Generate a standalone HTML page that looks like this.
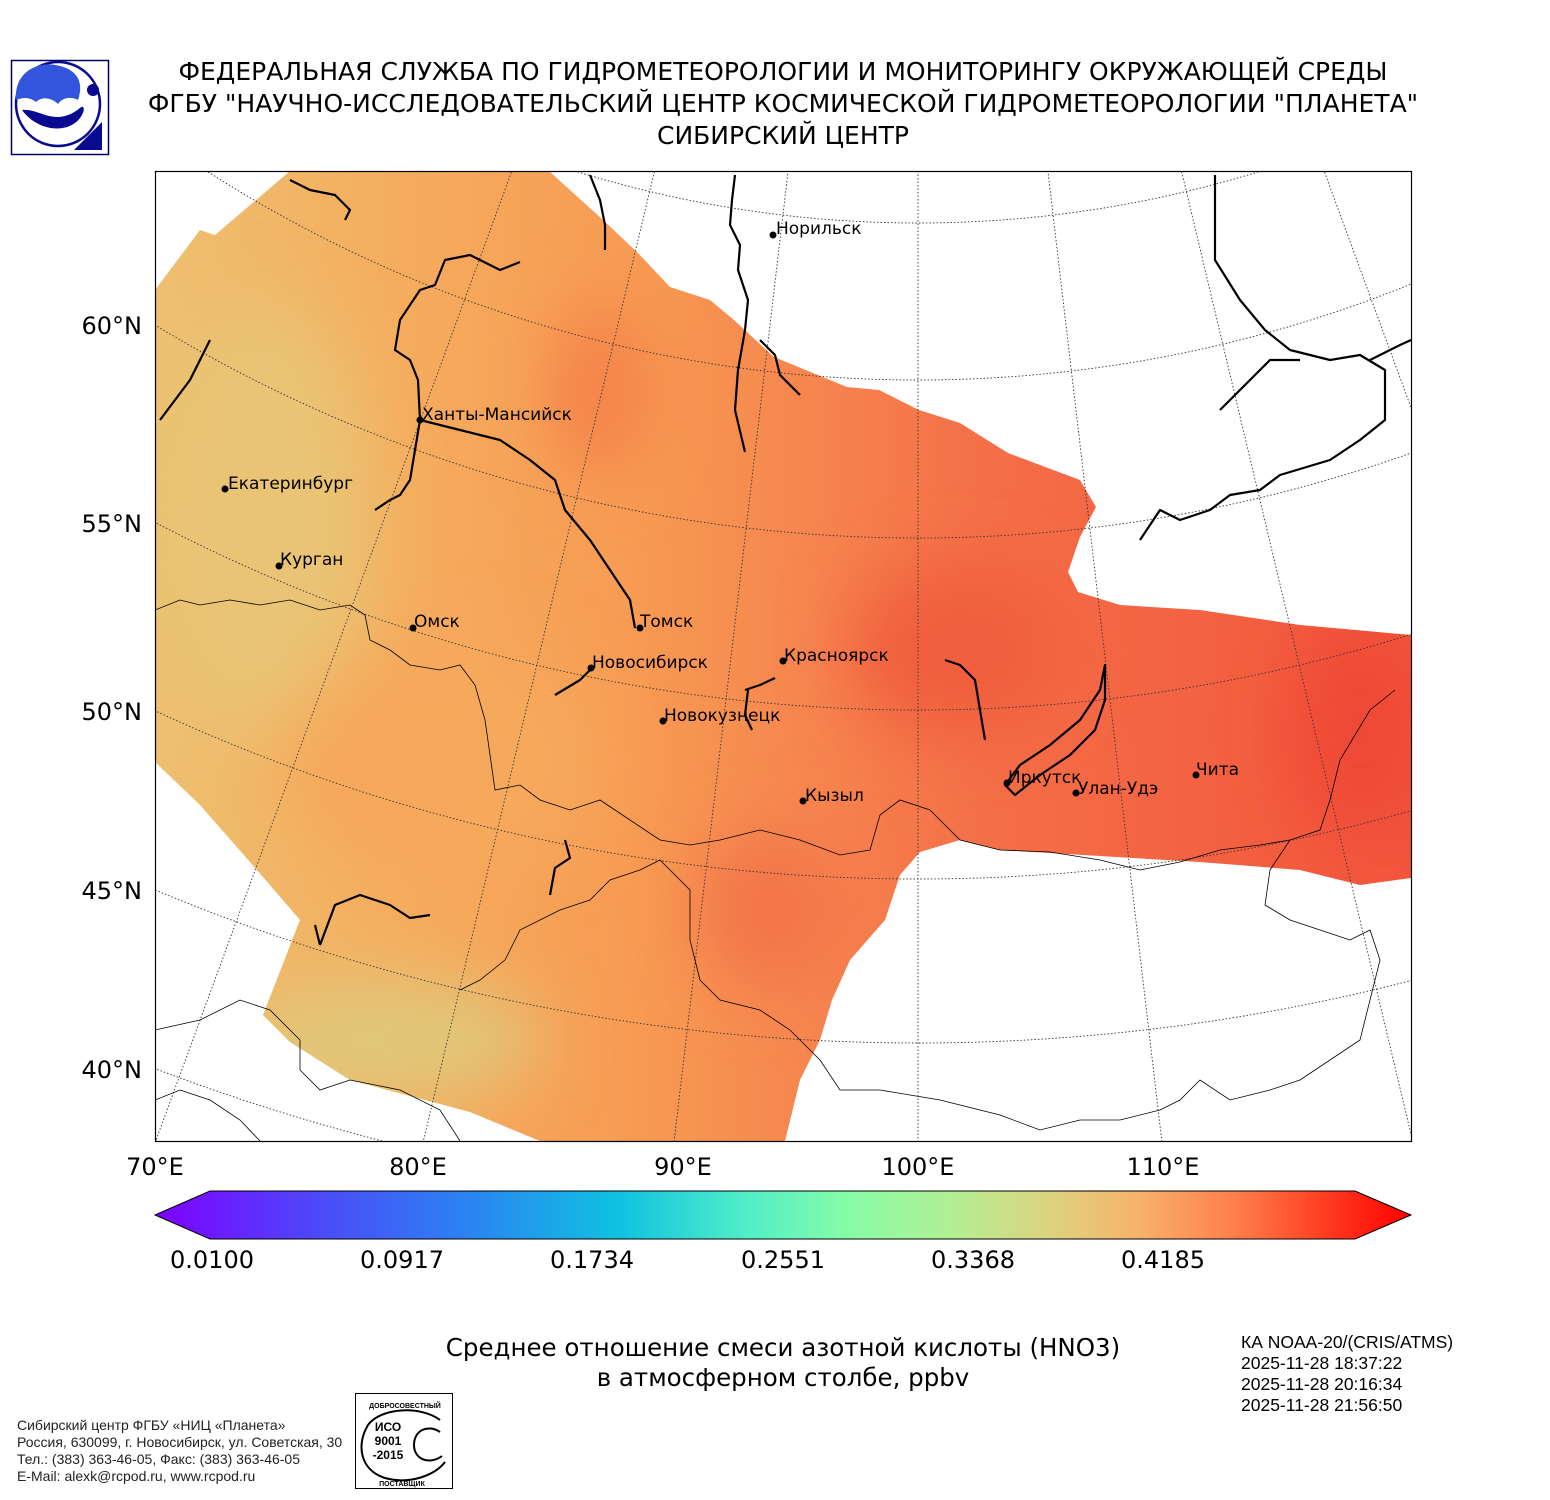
<!DOCTYPE html>
<html><head><meta charset="utf-8"><style>
html,body{margin:0;padding:0;background:#fff;width:1550px;height:1500px;overflow:hidden;font-family:"DejaVu Sans","Liberation Sans",sans-serif}
svg{display:block}
</style></head><body>
<svg width="1550" height="1500" viewBox="0 0 1550 1500" xmlns="http://www.w3.org/2000/svg">
<defs>
<clipPath id="plot"><rect x="155" y="171" width="1256" height="970"/></clipPath>
<clipPath id="data"><path d="M155,290 L200,230 L215,235 L290,171 L549,171 L581,200 L601,218 L638,253 L670,287 L710,300 L734,320 L774,357 L847,387 L879,390 L919,410 L960,423 L1008,453 L1080,480 L1096,507 L1080,537 L1068,572 L1078,592 L1120,605 L1200,610 L1300,625 L1411,635 L1411,878 L1360,885 L1300,870 L1200,862 L1100,856 L1000,850 L960,840 L920,852 L900,875 L885,920 L850,960 L832,1000 L820,1040 L800,1080 L785,1141 L540,1141 L470,1112 L350,1080 L290,1042 L263,1015 L300,920 L250,862 L200,805 L155,762 Z"/></clipPath>
<linearGradient id="fg" x1="155" y1="0" x2="1411" y2="0" gradientUnits="userSpaceOnUse">
<stop offset="0" stop-color="#edc070"/><stop offset="0.2" stop-color="#f5ac5e"/><stop offset="0.38" stop-color="#f79b53"/><stop offset="0.53" stop-color="#f6844e"/><stop offset="0.66" stop-color="#f46f48"/><stop offset="1" stop-color="#f2553b"/>
</linearGradient>
<linearGradient id="cb" x1="155" y1="0" x2="1411" y2="0" gradientUnits="userSpaceOnUse">
<stop offset="0" stop-color="#7f00ff"/><stop offset="0.12" stop-color="#5044fa"/><stop offset="0.25" stop-color="#2a84f2"/><stop offset="0.37" stop-color="#10c2e0"/><stop offset="0.47" stop-color="#50eec8"/><stop offset="0.55" stop-color="#86fca8"/><stop offset="0.63" stop-color="#b0f094"/><stop offset="0.71" stop-color="#dcd480"/><stop offset="0.78" stop-color="#f6b46a"/><stop offset="0.86" stop-color="#ff7e4c"/><stop offset="0.93" stop-color="#ff3e22"/><stop offset="1" stop-color="#ff0000"/>
</linearGradient>
<filter id="bl" x="-50%" y="-50%" width="200%" height="200%"><feGaussianBlur stdDeviation="35"/></filter>
</defs>

<!-- logo -->
<rect x="11.5" y="60.5" width="97" height="94" fill="#fff" stroke="#000066" stroke-width="1.5"/>
<circle cx="58" cy="104" r="42" fill="none" stroke="#0a0a90" stroke-width="2.5"/>
<path d="M16,100 C14,70 40,62 55,65 C75,68 85,80 78,100 C70,96 62,98 58,104 C52,98 42,96 36,102 C28,96 22,98 16,100Z" fill="#3355dd"/>
<path d="M22,110 C40,108 55,128 80,108 C84,104 86,110 80,118 C68,134 38,132 22,110Z" fill="#0a0a90"/>
<circle cx="93" cy="90" r="6" fill="#0a0a90"/>
<path d="M102,122 L102,150 L74,150 Z" fill="#0a0a90"/>

<g font-size="25" text-anchor="middle" fill="#000">
<text x="783" y="80">ФЕДЕРАЛЬНАЯ СЛУЖБА ПО ГИДРОМЕТЕОРОЛОГИИ И МОНИТОРИНГУ ОКРУЖАЮЩЕЙ СРЕДЫ</text>
<text x="783" y="112">ФГБУ "НАУЧНО-ИССЛЕДОВАТЕЛЬСКИЙ ЦЕНТР КОСМИЧЕСКОЙ ГИДРОМЕТЕОРОЛОГИИ "ПЛАНЕТА"</text>
<text x="783" y="144">СИБИРСКИЙ ЦЕНТР</text>
</g>

<!-- data field -->
<g clip-path="url(#data)">
<rect x="155" y="171" width="1256" height="970" fill="url(#fg)"/>
<g filter="url(#bl)">
<ellipse cx="260" cy="520" rx="110" ry="220" fill="#e9c474"/>
<ellipse cx="390" cy="1040" rx="150" ry="60" fill="#e0c87a"/>
<ellipse cx="600" cy="390" rx="45" ry="90" fill="#f4804a"/>
<ellipse cx="960" cy="650" rx="110" ry="90" fill="#f05e3e"/>
<ellipse cx="1360" cy="730" rx="70" ry="110" fill="#ef4a34"/>
<ellipse cx="770" cy="910" rx="70" ry="80" fill="#f37549"/>
<ellipse cx="440" cy="760" rx="160" ry="120" fill="#f6a85c"/>
</g>
</g>

<g clip-path="url(#plot)" fill="none">
<g stroke="#333" stroke-width="0.9" stroke-dasharray="1.5,2">
<circle cx="918" cy="-935" r="1158"/><circle cx="918" cy="-935" r="1315"/><circle cx="918" cy="-935" r="1473"/>
<circle cx="918" cy="-935" r="1645"/><circle cx="918" cy="-935" r="1814"/><circle cx="918" cy="-935" r="1978"/><circle cx="918" cy="-935" r="2144"/>
<line x1="918" y1="-935" x2="-112" y2="1870"/>
<line x1="918" y1="-935" x2="223" y2="1982"/>
<line x1="918" y1="-935" x2="568" y2="2045"/>
<line x1="918" y1="-935" x2="918" y2="2065"/>
<line x1="918" y1="-935" x2="1268" y2="2045"/>
<line x1="918" y1="-935" x2="1613" y2="1982"/>
<line x1="918" y1="-935" x2="1948" y2="1870"/>
<line x1="918" y1="-935" x2="2268" y2="1745"/>
</g>
<g stroke="#000" stroke-width="2.2" stroke-linejoin="round">
<path d="M420,420 L418,380 L410,360 L395,350 L400,320 L420,290 L435,285 L445,260 L470,255 L500,270 L520,262"/>
<path d="M420,420 L460,430 L500,440 L530,460 L555,480 L565,510 L590,540 L610,570 L630,600 L635,628"/>
<path d="M420,420 L415,450 L410,480 L400,495 L390,500 L375,510"/>
<path d="M745,452 L735,410 L738,370 L745,330 L748,300 L738,270 L740,245 L730,225 L732,200 L735,175"/>
<path d="M760,340 L775,355 L780,375 L800,395"/>
<path d="M290,180 L310,190 L335,195 L350,210 L345,220"/>
<path d="M590,175 L600,200 L605,225 L605,250"/>
<path d="M160,420 L175,400 L190,380 L200,360 L210,340"/>
<path d="M1215,175 L1215,260 L1240,300 L1265,330 L1290,350 L1330,360 L1360,355 L1385,370 L1385,420 L1360,440 L1330,460 L1280,475 L1260,490 L1230,495 L1210,510 L1180,520 L1160,510 L1140,540"/>
<path d="M1300,360 L1270,360 L1250,380 L1230,400 L1220,410"/>
<path d="M1370,360 L1400,345 L1411,340"/>
<path d="M1105,665 L1100,690 L1080,720 L1050,745 L1020,765 L1005,785 L1015,795 L1040,775 L1070,755 L1095,730 L1105,700 Z"/>
<path d="M945,660 L960,665 L975,680 L980,710 L985,740"/>
<path d="M745,690 L760,685 L775,678 M748,690 L745,715 L752,730"/>
<path d="M555,695 L580,680 L590,670"/>
<path d="M320,945 L335,905 L360,895 L390,905 L410,918 L430,915 M320,945 L315,925"/>
<path d="M565,840 L570,858 L555,868 L550,895"/>
</g>
<g stroke="#000" stroke-width="0.8">
<path d="M155,610 L180,600 L200,605 L230,600 L260,605 L290,600 L320,610 L350,605 L365,615 L370,640 L390,650 L410,665 L440,670 L460,665 L475,685 L485,720 L495,790 L520,785 L540,800 L570,810 L600,800 L630,820 L660,840 L690,845 L720,840 L760,830 L800,840 L840,855 L870,850 L880,815 L900,800 L930,810 L960,840 L1000,850 L1050,852 L1100,860 L1140,870 L1180,862 L1220,850 L1260,845 L1290,840 L1320,830 L1330,800 L1340,760 L1370,710 L1395,690"/>
<path d="M1290,840 L1270,870 L1265,905 L1290,920 L1320,930 L1350,940 L1370,930 L1380,960 L1370,1000 L1360,1040 L1330,1060 L1300,1080 L1270,1090 L1230,1100 L1200,1080 L1180,1100 L1160,1110 L1120,1120 L1080,1120 L1040,1130 L1000,1115 L940,1100 L880,1090 L840,1090 L820,1060 L790,1030 L760,1010 L720,1000 L700,980 L690,940 L690,890 L660,860 L640,870 L610,880 L590,900 L560,910 L540,920 L520,930 L505,960 L480,980 L460,990"/>
<path d="M155,1030 L200,1020 L240,1000 L270,1010 L300,1040 L300,1070 L320,1090 L350,1080 L400,1090 L440,1110 L460,1141"/>
<path d="M155,1100 L180,1090 L210,1100 L240,1120 L260,1141"/>
</g>
</g>

<g font-size="17" fill="#000">
<circle cx="773" cy="235" r="3.5"/><text x="776" y="234">Норильск</text>
<circle cx="420" cy="420" r="3.5"/><text x="422" y="420">Ханты-Мансийск</text>
<circle cx="225" cy="489" r="3.5"/><text x="228" y="489">Екатеринбург</text>
<circle cx="279" cy="566" r="3.5"/><text x="280" y="565">Курган</text>
<circle cx="413" cy="628" r="3.5"/><text x="414" y="627">Омск</text>
<circle cx="640" cy="628" r="3.5"/><text x="640" y="627">Томск</text>
<circle cx="591" cy="668" r="3.5"/><text x="592" y="668">Новосибирск</text>
<circle cx="783" cy="661" r="3.5"/><text x="784" y="661">Красноярск</text>
<circle cx="663" cy="721" r="3.5"/><text x="664" y="721">Новокузнецк</text>
<circle cx="803" cy="801" r="3.5"/><text x="805" y="801">Кызыл</text>
<circle cx="1007" cy="783" r="3.5"/><text x="1008" y="783">Иркутск</text>
<circle cx="1076" cy="793" r="3.5"/><text x="1078" y="794">Улан-Удэ</text>
<circle cx="1196" cy="775" r="3.5"/><text x="1196" y="775">Чита</text>
</g>

<rect x="155.5" y="171.5" width="1256" height="970" fill="none" stroke="#000" stroke-width="1.2"/>

<g font-size="24" fill="#000">
<g text-anchor="end">
<text x="142" y="334">60°N</text><text x="142" y="532">55°N</text><text x="142" y="720">50°N</text><text x="142" y="899">45°N</text><text x="142" y="1078">40°N</text>
</g>
<g text-anchor="middle">
<text x="155" y="1175">70°E</text><text x="418" y="1175">80°E</text><text x="683" y="1175">90°E</text><text x="918" y="1175">100°E</text><text x="1163" y="1175">110°E</text>
</g>
</g>

<path d="M155,1215 L210,1191 L1355,1191 L1411,1215 L1355,1239 L210,1239 Z" fill="url(#cb)" stroke="#000" stroke-width="1"/>
<g font-size="24" text-anchor="middle">
<text x="212" y="1268">0.0100</text><text x="402" y="1268">0.0917</text><text x="592" y="1268">0.1734</text><text x="783" y="1268">0.2551</text><text x="973" y="1268">0.3368</text><text x="1163" y="1268">0.4185</text>
</g>

<g font-size="24.5" text-anchor="middle">
<text x="783" y="1356">Среднее отношение смеси азотной кислоты (HNO3)</text>
<text x="783" y="1386">в атмосферном столбе, ppbv</text>
</g>
<g font-size="17.5" font-family="Liberation Sans, sans-serif">
<text x="1241" y="1348">КА NOAA-20/(CRIS/ATMS)</text>
<text x="1241" y="1369">2025-11-28 18:37:22</text>
<text x="1241" y="1390">2025-11-28 20:16:34</text>
<text x="1241" y="1411">2025-11-28 21:56:50</text>
</g>
<g font-size="14" font-family="Liberation Sans, sans-serif" fill="#222">
<text x="17" y="1430">Сибирский центр ФГБУ «НИЦ «Планета»</text>
<text x="17" y="1447">Россия, 630099, г. Новосибирск, ул. Советская, 30</text>
<text x="17" y="1464">Тел.: (383) 363-46-05, Факс: (383) 363-46-05</text>
<text x="17" y="1481">E-Mail: alexk@rcpod.ru, www.rcpod.ru</text>
</g>
<rect x="355.5" y="1393.5" width="97" height="95" fill="#fff" stroke="#000"/>
<path d="M440,1420 C420,1405 380,1408 368,1425 C356,1445 360,1470 385,1478 C410,1485 435,1475 445,1462" fill="none" stroke="#000" stroke-width="2"/>
<path d="M440,1432 C428,1424 414,1430 414,1445 C414,1460 430,1465 442,1456" fill="none" stroke="#000" stroke-width="2"/>
<g font-size="12" font-weight="bold" font-family="Liberation Sans, sans-serif" text-anchor="middle">
<text x="388" y="1431">ИСО</text><text x="388" y="1445">9001</text><text x="388" y="1459">-2015</text>
<text x="405" y="1408" font-size="7">ДОБРОСОВЕСТНЫЙ</text>
<text x="402" y="1486" font-size="7">ПОСТАВЩИК</text>
</g>
</svg>
</body></html>
